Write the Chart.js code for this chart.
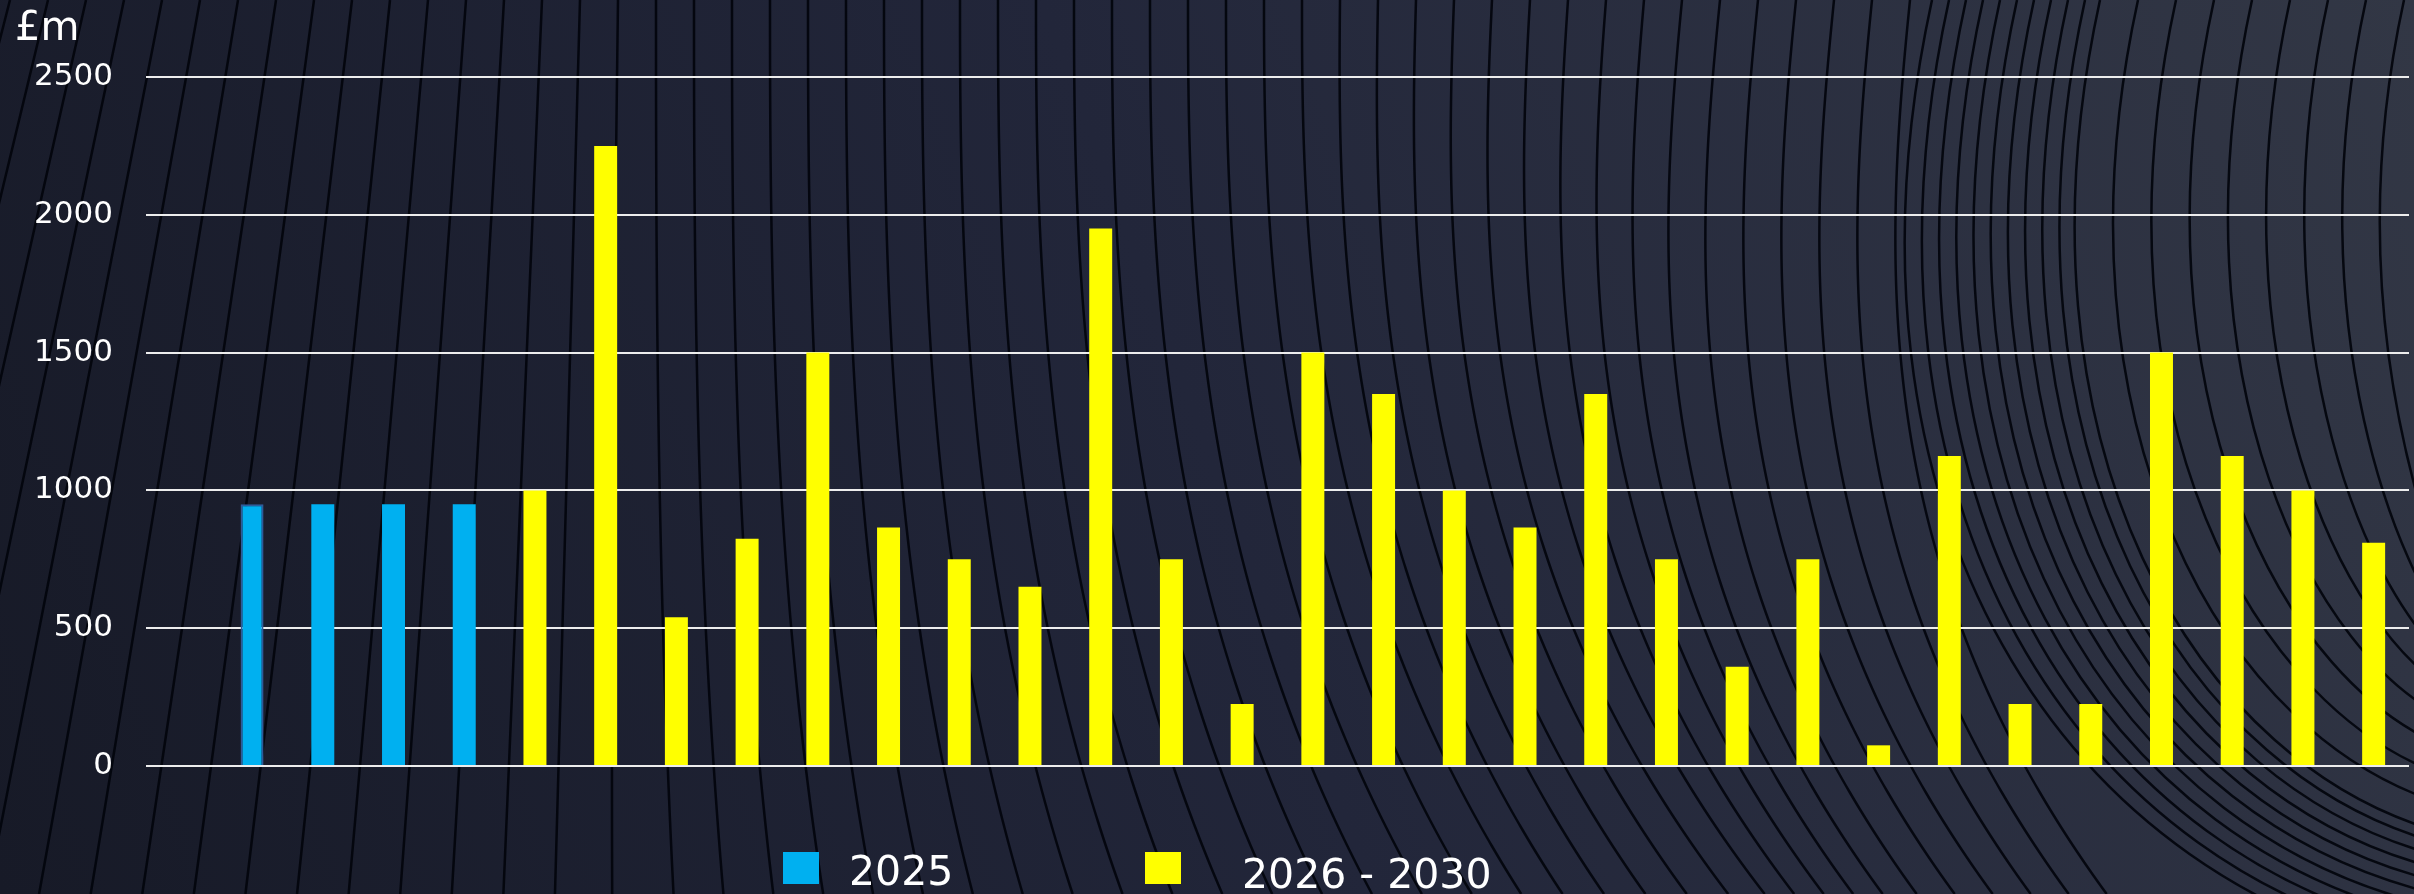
<!DOCTYPE html>
<html lang="en">
<head>
<meta charset="UTF-8">
<title>Capital programme £m</title>
<script src="https://cdn.jsdelivr.net/npm/chart.js@4.4.1/dist/chart.umd.min.js"></script>
<style>
  html, body { margin: 0; padding: 0; background: #1d2030; overflow: hidden; }
  #wrap { width: 2414px; height: 894px; }
</style>
</head>
<body>
<div id="wrap"><canvas id="chart" width="2414" height="894"></canvas></div>
<script>
// one empty slot, then 4 schemes in 2025 and 27 in 2026 - 2030
const categories = ['', 'S1', 'S2', 'S3', 'S4', 'S5', 'S6', 'S7', 'S8', 'S9', 'S10', 'S11', 'S12', 'S13', 'S14', 'S15', 'S16',
  'S17', 'S18', 'S19', 'S20', 'S21', 'S22', 'S23', 'S24', 'S25', 'S26', 'S27', 'S28', 'S29', 'S30', 'S31'];
const seriesNames = ['2025', '2026 - 2030'];
const values2025 = [null, 950, 950, 950, 950];
const values2026to2030 = [1000, 2250, 540, 825, 1500, 865, 750, 650, 1950, 750, 225, 1500, 1350, 1000, 865,
  1350, 750, 360, 750, 75, 1125, 225, 225, 1500, 1125, 1000, 810];
const yTicks = [0, 500, 1000, 1500, 2000, 2500];
const unitLabel = '£m';

const W = 2414, H = 894;

// pad each series out to the full category list
const blueData = categories.map((c, i) => i < values2025.length ? values2025[i] : null);
const yellowData = categories.map((c, i) => {
  const k = i - values2025.length;
  return k >= 0 ? values2026to2030[k] : null;
});

// background: dark gradient with contour-like lines
function drawContours(ctx) {
  ctx.save();
  ctx.strokeStyle = 'rgba(2,4,12,0.92)';
  ctx.lineWidth = 2.5;
  ctx.lineJoin = 'round';

  // falling lines over the left and middle
  for (let xt = 10; xt < 1930; xt += 38) {
    const a = xt < 650 ? -0.26 * Math.min(1, (650 - xt) / 650) : (xt > 1300 ? -0.1 * Math.min(1, (xt - 1300) / 400) : 0);
    const b = xt > 600 ? Math.min(0.32, (xt - 600) * 0.00035) : 0;
    ctx.beginPath();
    for (let y = 0; y <= H; y += 6) {
      const x = xt + a * y + b * H * Math.pow(y / H, 2.6);
      if (y === 0) ctx.moveTo(x, y); else ctx.lineTo(x, y);
    }
    ctx.stroke();
  }

  // lines on the right that turn towards the right edge
  const rightTops = [];
  for (let x = 1932; x < 2090; x += 17) rightTops.push(x);
  for (let x = 2100; x < 2450; x += 38) rightTops.push(x);
  rightTops.forEach(xt => {
    const ye = 560 + (W - xt) * 0.75;
    ctx.beginPath();
    ctx.moveTo(xt, 0);
    ctx.bezierCurveTo(xt - 0.12 * ye, ye * 0.55,
      xt - 0.06 * ye + (W - xt) * 0.25 + 60, ye * 0.97,
      W + 40, ye + 40);
    ctx.stroke();
  });
  ctx.restore();
}

const backgroundPlugin = {
  id: 'background',
  beforeDraw(chart) {
    const ctx = chart.ctx;
    const g = ctx.createLinearGradient(0, H, W, 0);
    g.addColorStop(0, '#171a27');
    g.addColorStop(0.5, '#22263a');
    g.addColorStop(1, '#323745');
    ctx.save();
    ctx.fillStyle = g;
    ctx.fillRect(0, 0, W, H);
    ctx.restore();
    drawContours(ctx);
  }
};

// unit label and the legend under the plot
const labelsPlugin = {
  id: 'labels',
  afterDraw(chart) {
    const ctx = chart.ctx;
    ctx.save();
    ctx.fillStyle = '#ffffff';
    ctx.textBaseline = 'alphabetic';
    ctx.font = '40px "DejaVu Sans"';
    ctx.fillText(unitLabel, 15, 40);

    const spots = [{ box: 783, text: 849, base: 885 }, { box: 1145, text: 1242, base: 888 }];
    chart.data.datasets.forEach((ds, i) => {
      const s = spots[i];
      ctx.fillStyle = ds.backgroundColor;
      ctx.fillRect(s.box, 852, 36, 32);
      ctx.fillStyle = '#ffffff';
      ctx.font = '41px "DejaVu Sans"';
      ctx.fillText(ds.label, s.text, s.base);
    });
    ctx.restore();
  }
};

new Chart(document.getElementById('chart'), {
  type: 'bar',
  data: {
    labels: categories,
    datasets: [
      {
        label: seriesNames[0],
        data: blueData,
        backgroundColor: '#00b0f0',
        borderColor: categories.map((c, i) => i === 1 ? '#2f5c9c' : '#00b0f0'),
        borderWidth: categories.map((c, i) => i === 1 ? 2 : 0)
      },
      {
        label: seriesNames[1],
        data: yellowData,
        backgroundColor: '#ffff00',
        borderWidth: 0
      }
    ]
  },
  options: {
    responsive: false,
    devicePixelRatio: 1,
    animation: false,
    layout: { padding: { left: 0, right: 5, top: 77, bottom: 128 } },
    datasets: { bar: { grouped: false, categoryPercentage: 1, barPercentage: 0.325 } },
    plugins: { legend: { display: false }, tooltip: { enabled: false } },
    scales: {
      x: { display: false },
      y: {
        min: 0,
        max: 2500,
        afterFit: s => { s.width = 146; },
        afterBuildTicks: s => { s.ticks = yTicks.map(v => ({ value: v })); },
        ticks: {
          color: '#ffffff',
          font: { family: 'DejaVu Sans', size: 31 },
          padding: 33,
          callback: v => String(v)
        },
        grid: { color: '#ededed', lineWidth: 2, drawTicks: false },
        border: { display: false }
      }
    }
  },
  plugins: [backgroundPlugin, labelsPlugin]
});
</script>
</body>
</html>
